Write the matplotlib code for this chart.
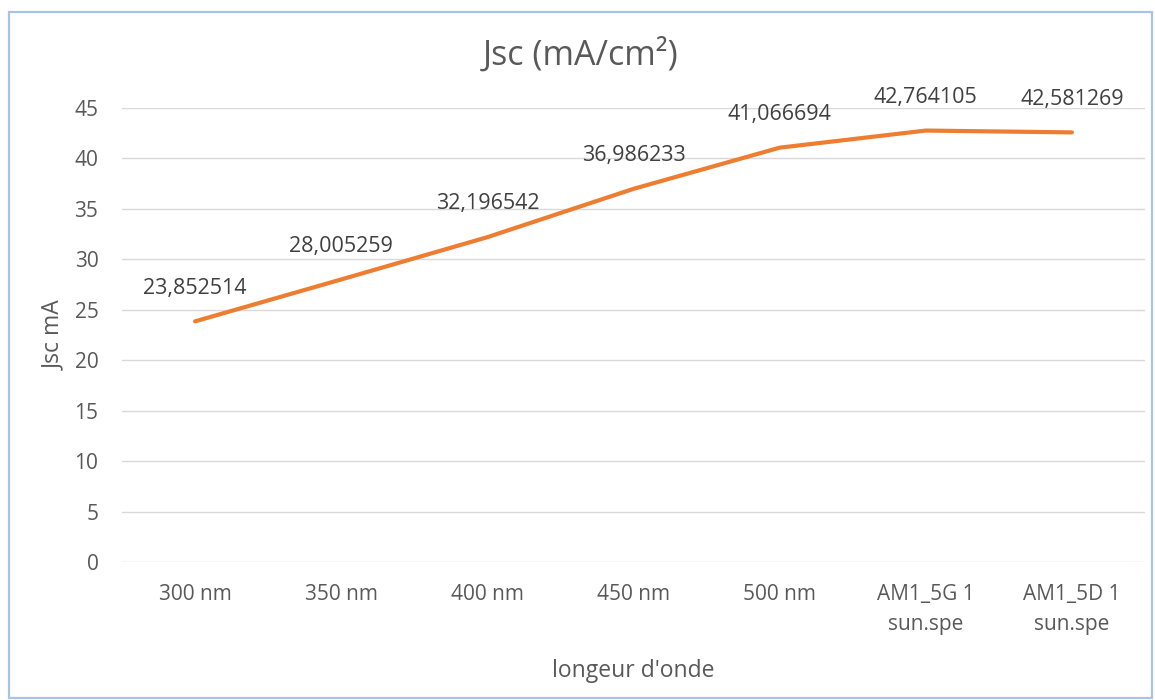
import matplotlib
matplotlib.use("Agg")
import matplotlib.pyplot as plt
from matplotlib.patches import Rectangle

categories = ["300 nm", "350 nm", "400 nm", "450 nm", "500 nm",
              "AM1_5G 1\nsun.spe", "AM1_5D 1\nsun.spe"]
jsc_values = [23.852514, 28.005259, 32.196542, 36.986233,
              41.066694, 42.764105, 42.581269]
value_labels = ["23,852514", "28,005259", "32,196542", "36,986233",
                "41,066694", "42,764105", "42,581269"]
y_ticks = [0, 5, 10, 15, 20, 25, 30, 35, 40, 45]

plt.rcParams['font.family'] = ['Open Sans', 'DejaVu Sans']

fig = plt.figure(figsize=(11.55, 7.0), dpi=100)
fig.patch.set_facecolor("white")

# light blue frame around the chart
fig.add_artist(Rectangle((9 / 1155, 2 / 700), 1143 / 1155, 686 / 700,
                         transform=fig.transFigure, fill=False,
                         edgecolor="#A7C3E8", linewidth=1.6))

ax = fig.add_axes([122 / 1155, 1 - 562 / 700, 1023 / 1155, 454 / 700])
x = list(range(len(categories)))
ax.plot(x, jsc_values, color="#ED7D31", linewidth=3.0,
        solid_capstyle="round", solid_joinstyle="round", zorder=3)

for xi, v, lab in zip(x, jsc_values, value_labels):
    ax.annotate(lab, (xi, v), xytext=(0, 24), textcoords="offset points",
                ha="center", va="center", fontsize=15.5, color="#404040")

ax.set_xlim(-0.5, len(categories) - 0.5)
ax.set_ylim(0, 45)
ax.set_yticks(y_ticks)
ax.set_xticks(x)
ax.set_xticklabels(categories, linespacing=1.55)
ax.tick_params(axis="both", length=0, labelsize=15, colors="#595959")
ax.tick_params(axis="x", pad=16)
ax.tick_params(axis="y", pad=17)
ax.grid(axis="y", color="#D9D9D9", linewidth=1.0)
ax.set_axisbelow(True)
for s in ax.spines.values():
    s.set_visible(False)

ax.set_ylabel("Jsc mA", fontsize=16.5, color="#595959", labelpad=6)
ax.set_xlabel("longeur d'onde", fontsize=16.5, color="#595959", labelpad=17)
fig.text(0.503, 1 - 55 / 700, "Jsc (mA/cm²)", ha="center", va="center",
         fontsize=24.5, color="#595959")

fig.savefig("out.png", dpi=100, facecolor="white")
